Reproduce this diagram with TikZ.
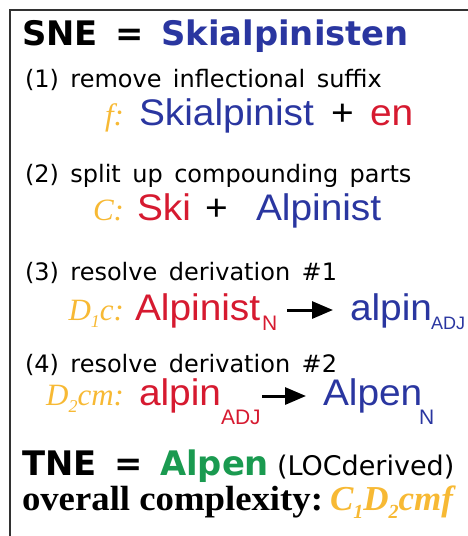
\documentclass[tikz,border=0pt]{standalone}
\usepackage{fontspec}
\setmainfont{Liberation Sans}
\newfontfamily\wordfont{Liberation Sans}[FakeStretch=1.05]
\newfontfamily\headfont{DejaVu Sans}[WordSpace=0.8]
\newfontfamily\stepfont{DejaVu Sans}[WordSpace=1.5]
\newfontfamily\romfont{Liberation Serif}
\newfontfamily\widerom{Liberation Serif}[FakeStretch=1.05]
\usetikzlibrary{arrows.meta}
\definecolor{wblue}{RGB}{42,54,160}
\definecolor{wred}{RGB}{214,26,48}
\definecolor{wgold}{RGB}{247,185,52}
\definecolor{wgreen}{RGB}{26,154,80}
\definecolor{framegray}{RGB}{50,50,50}
\newcommand\px[1]{\fontsize{#1}{#1}\selectfont}
\newcommand\lowsub[3]{\raisebox{-#1}{\px{#2}#3}}
\tikzset{
  txt/.style={inner sep=0pt, outer sep=0pt, anchor=base west},
  rtxt/.style={inner sep=0pt, outer sep=0pt, anchor=base east},
  head/.style={txt, font=\headfont\bfseries\px{33.8}},
  stepline/.style={txt, font=\stepfont\px{24}},
  word/.style={txt, font=\wordfont\px{37}},
  tag/.style={txt, font=\px{21}},
  smalltag/.style={txt, font=\px{18}},
  oper/.style={rtxt, font=\romfont\itshape\px{31}, text=wgold},
  derive/.style={line width=3pt, -{Triangle[length=21pt,width=17pt]}}
}
\begin{document}
\begin{tikzpicture}[x=1pt, y=-1pt]
\useasboundingbox (0,0) rectangle (468,536);
% open frame: top and left edges
\draw[framegray, line width=1.3pt] (10,537) -- (10,10) -- (469,10);

% source named entity
\node[head] (sne) at (22,45) {SNE = \textcolor{wblue}{Skialpinisten}};

% step 1
\node[stepline] (s1) at (25,87) {(1) remove inflectional suffix};
\node[oper] (o1) at (124,125) {f:};
\node[word, text=wblue] (w1a) at (139,125) {Skialpinist};
\node[word] (p1) at (331,125) {+};
\node[word, text=wred] (w1b) at (370,125) {en};

% step 2
\node[stepline] (s2) at (25,182) {(2) split up compounding parts};
\node[oper] (o2) at (124,220) {C:};
\node[word, text=wred] (w2a) at (137,220) {Ski};
\node[word] (p2) at (205,220) {+};
\node[word, text=wblue] (w2b) at (256,220) {Alpinist};

% step 3
\node[stepline] (s3) at (25,280) {(3) resolve derivation \#1};
\node[oper] (o3) at (124,320) {D\lowsub{7pt}{18}{1}c:};
\node[word, text=wred] (w3a) at (135,320) {Alpinist};
\node[tag, text=wred] (t3a) at (262,330) {N};
\coordinate (a3s) at (287,310);
\coordinate (a3e) at (333,310);
\draw[derive] (a3s) -- (a3e);
\node[word, text=wblue] (w3b) at (350,320) {alpin};
\node[smalltag, text=wblue] (t3b) at (431,329) {ADJ};

% step 4
\node[stepline] (s4) at (25,372) {(4) resolve derivation \#2};
\node[oper] (o4) at (124,405) {D\lowsub{7pt}{18}{2}cm:};
\node[word, text=wred] (w4a) at (139,405) {alpin};
\node[tag, text=wred] (t4a) at (221,424) {ADJ};
\coordinate (a4s) at (262,396);
\coordinate (a4e) at (306,396);
\draw[derive] (a4s) -- (a4e);
\node[word, text=wblue] (w4b) at (323,405) {Alpen};
\node[tag, text=wblue] (t4b) at (419,424) {N};

% target named entity
\node[head] (tne) at (22,475) {TNE = \textcolor{wgreen}{Alpen}};
\node[txt, font=\headfont\px{27}] (loc) at (277,475) {(LOCderived)};

% summary
\node[txt, font=\widerom\bfseries\px{35}] (oc) at (22,510) {overall complexity:};
\node[txt, font=\romfont\bfseries\itshape\px{35}, text=wgold] (cx) at (330,510)
  {C\lowsub{8pt}{20}{1}D\lowsub{8pt}{20}{2}cmf};
\end{tikzpicture}
\end{document}
